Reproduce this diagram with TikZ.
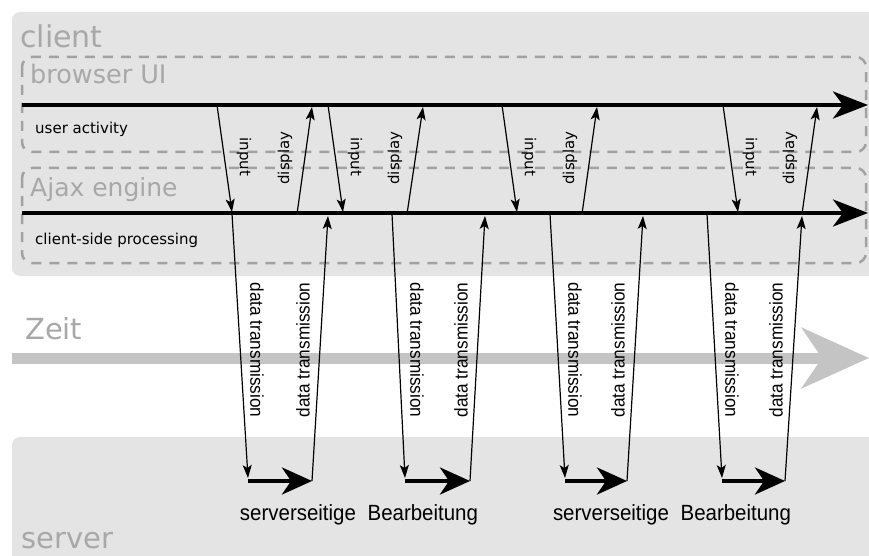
\documentclass[tikz,border=0pt]{standalone}
\usepackage{fontspec}
\setmainfont{DejaVu Sans}
\newfontfamily\narrowfont[FakeStretch=0.93]{Liberation Sans}
\usetikzlibrary{calc,arrows.meta}
\definecolor{panelgray}{HTML}{E4E4E4}
\definecolor{dashgray}{HTML}{A2A2A2}
\definecolor{timegray}{HTML}{C4C4C4}
\definecolor{labelgray}{HTML}{A8A8A8}

\begin{document}
\begin{tikzpicture}[x=1pt, y=-1pt,
    panel/.style={fill=panelgray, rounded corners=8pt},
    layerbox/.style={draw=dashgray, line width=2.5pt, dash pattern=on 10pt off 8pt, rounded corners=10pt},
    timeline/.style={line width=4pt, -{Stealth[length=35pt, width=27pt, inset=10pt]}},
    timearrow/.style={draw=timegray, line width=11pt, -{Stealth[length=67pt, width=60pt, inset=20pt]}},
    thinarrow/.style={line width=1.2pt, -{Stealth[length=13pt, width=9pt, inset=3pt]}},
    procarrow/.style={line width=4pt, -{Stealth[length=30pt, width=27pt, inset=9pt]}},
    grouplabel/.style={text=labelgray, anchor=base west, inner sep=0pt},
    tracklabel/.style={anchor=base west, inner sep=0pt, font=\fontsize{15}{18}\selectfont},
    arrowlabel/.style={inner sep=0pt, font=\fontsize{15}{18}\selectfont},
    datalabel/.style={inner sep=0pt, font=\narrowfont\fontsize{18.5}{22}\selectfont},
    proclabel/.style={anchor=base, inner sep=0pt, font=\narrowfont\fontsize{22}{26}\selectfont}]
  % y grows downwards, units are pixels of the original
  \newcommand{\useraction}[5]{%
    \coordinate (#1-in-top) at (#2,105);
    \coordinate (#1-in-end) at (#3,212);
    \coordinate (#1-disp-start) at (#4,214);
    \coordinate (#1-disp-end) at (#5,107);
    \draw[thinarrow] (#1-in-top) -- (#1-in-end);
    \draw[thinarrow] (#1-disp-start) -- (#1-disp-end);
    \node[arrowlabel, rotate=-90] (#1-in-label) at ($(#1-in-top)+(27,52)$) {input};
    \node[arrowlabel, rotate=90] (#1-disp-label) at ($(#1-disp-start)+(-12,-56)$) {display};
  }
  \newcommand{\roundtrip}[5]{%
    \coordinate (#1-send) at (#2,214);
    \coordinate (#1-recv) at (#3,478);
    \coordinate (#1-proc-start) at (#3,481);
    \coordinate (#1-proc-end) at (#4,481);
    \coordinate (#1-back-end) at (#5,216);
    \draw[thinarrow] (#1-send) -- (#1-recv);
    \draw[procarrow] (#1-proc-start) -- (#1-proc-end);
    \draw[thinarrow] (#1-proc-end) -- (#1-back-end);
    \node[datalabel, rotate=-90] (#1-send-label) at ($(#1-send)+(25,136)$) {data transmission};
    \node[datalabel, rotate=90] (#1-back-label) at ($(#1-proc-end)+(-9,-131)$) {data transmission};
  }
  % ---------------------------------------------------------------- panels
  \useasboundingbox (0,0) rectangle (869,556);
  \clip (0,0) rectangle (869,556);
  \fill[panel] (12,12) rectangle (890,276);
  \fill[panel] (12,437) rectangle (890,590);
  \draw[layerbox] (22,57) rectangle (866,152);
  \draw[layerbox] (22,168) rectangle (866,263);
  \node[grouplabel, font=\fontsize{30}{36}\selectfont] (client) at (20,48) {client};
  \node[grouplabel, font=\fontsize{25.5}{30}\selectfont] (browser) at (30,84) {browser UI};
  \node[grouplabel, font=\fontsize{25}{30}\selectfont] (engine) at (30,196) {Ajax engine};
  \node[grouplabel, font=\fontsize{29}{34}\selectfont] (zeit) at (25,339) {Zeit};
  \node[grouplabel, font=\fontsize{29}{34}\selectfont] (server) at (21,548) {server};
  \node[tracklabel] (activity) at (35,134) {user activity};
  \node[tracklabel] (processing) at (35,244) {client-side processing};
  % ---------------------------------------------------------------- time axes
  \coordinate (time-start) at (12,358);
  \coordinate (time-end) at (869,358);
  \draw[timearrow] (time-start) -- (time-end);
  \coordinate (ui-start) at (22,105);
  \coordinate (ui-end) at (868,105);
  \draw[timeline] (ui-start) -- (ui-end);
  \coordinate (engine-start) at (22,213);
  \coordinate (engine-end) at (868,213);
  \draw[timeline] (engine-start) -- (engine-end);
  % ---------------------------------------------------------------- interactions
  \useraction{u1}{217}{232}{297}{312}
  \useraction{u2}{328}{343}{407}{423}
  \useraction{u3}{502}{517}{582}{597}
  \useraction{u4}{723}{738}{802}{817}
  \roundtrip{r1}{232}{248}{312}{328}
  \roundtrip{r2}{392}{405}{470}{485}
  \roundtrip{r3}{550}{565}{627}{643}
  \roundtrip{r4}{707}{722}{785}{802}
  \node[proclabel] (proc-first) at (359,520) {serverseitige\hspace{6pt} Bearbeitung};
  \node[proclabel] (proc-second) at (672,520) {serverseitige\hspace{6pt} Bearbeitung};
\end{tikzpicture}
\end{document}
